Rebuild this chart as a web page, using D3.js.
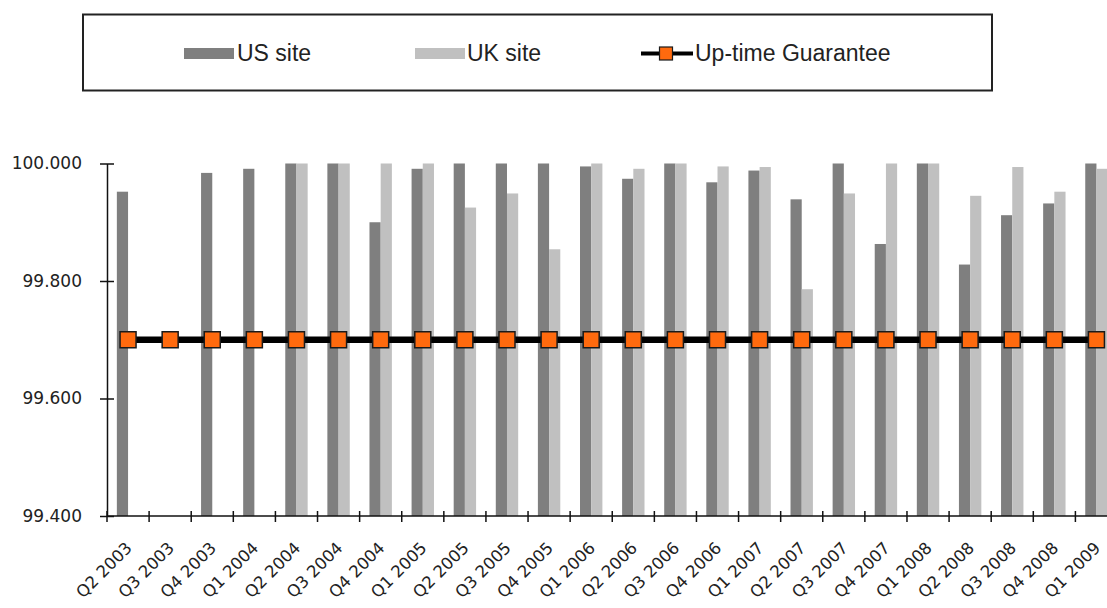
<!DOCTYPE html>
<html>
  <head>
    <meta charset="utf-8" />
    <style>
      body {
        margin: 0;
        background: #fff;
      }
      svg {
        display: block;
        overflow: hidden;
      }
    </style>
  </head>
  <body>
    <svg id="chart"></svg>

    <!-- Load d3.js -->
    <script src="https://d3js.org/d3.v7.min.js"></script>

    <script>
      const quarters = [
        "Q2 2003", "Q3 2003", "Q4 2003",
        "Q1 2004", "Q2 2004", "Q3 2004", "Q4 2004",
        "Q1 2005", "Q2 2005", "Q3 2005", "Q4 2005",
        "Q1 2006", "Q2 2006", "Q3 2006", "Q4 2006",
        "Q1 2007", "Q2 2007", "Q3 2007", "Q4 2007",
        "Q1 2008", "Q2 2008", "Q3 2008", "Q4 2008",
        "Q1 2009",
      ];

      const us_site = [
        99.952, null, 99.984,
        99.991, 100.0, 100.0, 99.9,
        99.991, 100.0, 100.0, 100.0,
        99.995, 99.974, 100.0, 99.968,
        99.988, 99.939, 100.0, 99.863,
        100.0, 99.828, 99.912, 99.932,
        100.0,
      ];

      const uk_site = [
        null, null, null,
        null, 100.0, 100.0, 100.0,
        100.0, 99.925, 99.949, 99.854,
        100.0, 99.991, 100.0, 99.995,
        99.994, 99.786, 99.949, 100.0,
        100.0, 99.945, 99.994, 99.952,
        99.991,
      ];

      const guarantee = [
        99.7, 99.7, 99.7,
        99.7, 99.7, 99.7, 99.7,
        99.7, 99.7, 99.7, 99.7,
        99.7, 99.7, 99.7, 99.7,
        99.7, 99.7, 99.7, 99.7,
        99.7, 99.7, 99.7, 99.7,
        99.7,
      ];

      const y_ticks = [99.4, 99.6, 99.8, 100.0];

      const series_names = ["US site", "UK site"];
      const series_colors = ["#7f7f7f", "#c0c0c0"];

      const width = 1107;
      const height = 608;
      const marginTop = 163.5;
      const marginLeft = 107;
      const plotRight = 1117.5; // plot runs past the window edge
      const plotBottom = 516;

      const svg = d3
        .select("#chart")
        .attr("width", width)
        .attr("height", height)
        .attr("viewBox", [0, 0, width, height]);

      // scales
      const x = d3
        .scaleBand()
        .domain(quarters)
        .range([marginLeft, plotRight])
        .paddingInner(0)
        .paddingOuter(0);

      const x1 = d3
        .scaleBand()
        .domain(series_names)
        .range([0, x.bandwidth()])
        .paddingInner(0)
        .paddingOuter(0.88);

      const y = d3
        .scaleLinear()
        .domain([99.4, 100.0])
        .range([plotBottom, marginTop]);

      const color = d3.scaleOrdinal().domain(series_names).range(series_colors);

      const rows = quarters.map((q, i) => ({
        quarter: q,
        values: [
          { name: "US site", value: us_site[i] },
          { name: "UK site", value: uk_site[i] },
        ],
        guarantee: guarantee[i],
      }));

      // bars
      svg
        .append("g")
        .selectAll("g")
        .data(rows)
        .join("g")
        .attr("transform", (d) => `translate(${x(d.quarter)},0)`)
        .selectAll("rect")
        .data((d) => d.values.filter((v) => v.value !== null))
        .join("rect")
        .attr("x", (d) => x1(d.name))
        .attr("width", x1.bandwidth())
        .attr("y", (d) => y(d.value))
        .attr("height", (d) => y(99.4) - y(d.value))
        .attr("fill", (d) => color(d.name));

      // y axis
      svg
        .append("g")
        .attr("transform", `translate(${marginLeft},0)`)
        .call(
          d3
            .axisLeft(y)
            .tickValues(y_ticks)
            .tickFormat(d3.format(".3f"))
            .tickSizeInner(7)
            .tickSizeOuter(0)
            .tickPadding(18)
        )
        .call((g) =>
          g.selectAll(".tick line").attr("x2", 7).attr("x1", -7)
        )
        .call((g) =>
          g
            .selectAll("line, path")
            .attr("stroke", "#111")
            .attr("stroke-width", 1.5)
        )
        .call((g) =>
          g
            .selectAll("text")
            .attr("fill", "#222")
            .attr("font-family", "DejaVu Sans, Verdana, sans-serif")
            .attr("font-size", 17)
        );

      // x axis: ticks between categories
      const boundaries = quarters.map((q) => x(q)).concat([plotRight]);
      const xAxis = svg.append("g");
      xAxis
        .append("line")
        .attr("x1", marginLeft)
        .attr("x2", plotRight)
        .attr("y1", plotBottom)
        .attr("y2", plotBottom)
        .attr("stroke", "#111")
        .attr("stroke-width", 1.5);
      xAxis
        .selectAll(".tk")
        .data(boundaries)
        .join("line")
        .attr("class", "tk")
        .attr("x1", (d) => d)
        .attr("x2", (d) => d)
        .attr("y1", plotBottom - 5)
        .attr("y2", plotBottom + 6)
        .attr("stroke", "#111")
        .attr("stroke-width", 1.5);
      xAxis
        .selectAll("text")
        .data(quarters)
        .join("text")
        .attr(
          "transform",
          (d) =>
            `translate(${x(d) + x.bandwidth() / 2 + 5},${plotBottom + 33}) rotate(-45)`
        )
        .attr("text-anchor", "end")
        .attr("font-family", "DejaVu Sans, Verdana, sans-serif")
        .attr("font-size", 16.5)
        .attr("fill", "#222")
        .text((d) => d);

      // guarantee line + markers
      const line = d3
        .line()
        .x((d, i) => x(quarters[i]) + x.bandwidth() / 2)
        .y((d) => y(d));

      svg
        .append("path")
        .datum(guarantee)
        .attr("d", line)
        .attr("fill", "none")
        .attr("stroke", "#000")
        .attr("stroke-width", 6.5);

      const m = 16;
      svg
        .append("g")
        .selectAll("rect")
        .data(guarantee)
        .join("rect")
        .attr("x", (d, i) => x(quarters[i]) + x.bandwidth() / 2 - m / 2)
        .attr("y", (d) => y(d) - m / 2)
        .attr("width", m)
        .attr("height", m)
        .attr("fill", "#ff6a0e")
        .attr("stroke", "#1a1a1a")
        .attr("stroke-width", 1.5);

      // legend
      const legend = svg.append("g");
      legend
        .append("rect")
        .attr("x", 83)
        .attr("y", 14.5)
        .attr("width", 909)
        .attr("height", 76)
        .attr("fill", "#fff")
        .attr("stroke", "#222")
        .attr("stroke-width", 2);

      const legendItems = [
        { name: "US site", sx: 184, tx: 237 },
        { name: "UK site", sx: 415, tx: 467 },
      ];

      legend
        .selectAll(".sw")
        .data(legendItems)
        .join("rect")
        .attr("class", "sw")
        .attr("x", (d) => d.sx)
        .attr("y", 48)
        .attr("width", 50)
        .attr("height", 11)
        .attr("fill", (d) => color(d.name));

      legend
        .selectAll(".lt")
        .data(legendItems.map((d) => d.name).concat(["Up-time Guarantee"]))
        .join("text")
        .attr("class", "lt")
        .attr("x", (d, i) => (i < 2 ? legendItems[i].tx : 695))
        .attr("y", 60.5)
        .attr("font-family", "Liberation Sans, Arial, sans-serif")
        .attr("font-size", 23)
        .attr("fill", "#222")
        .text((d) => d);

      legend
        .append("line")
        .attr("x1", 641)
        .attr("x2", 693)
        .attr("y1", 53.5)
        .attr("y2", 53.5)
        .attr("stroke", "#000")
        .attr("stroke-width", 4);

      legend
        .append("rect")
        .attr("x", 666 - 6.5)
        .attr("y", 53.5 - 6.5)
        .attr("width", 13)
        .attr("height", 13)
        .attr("fill", "#ff6a0e")
        .attr("stroke", "#1a1a1a")
        .attr("stroke-width", 1.2);
    </script>
  </body>
</html>
